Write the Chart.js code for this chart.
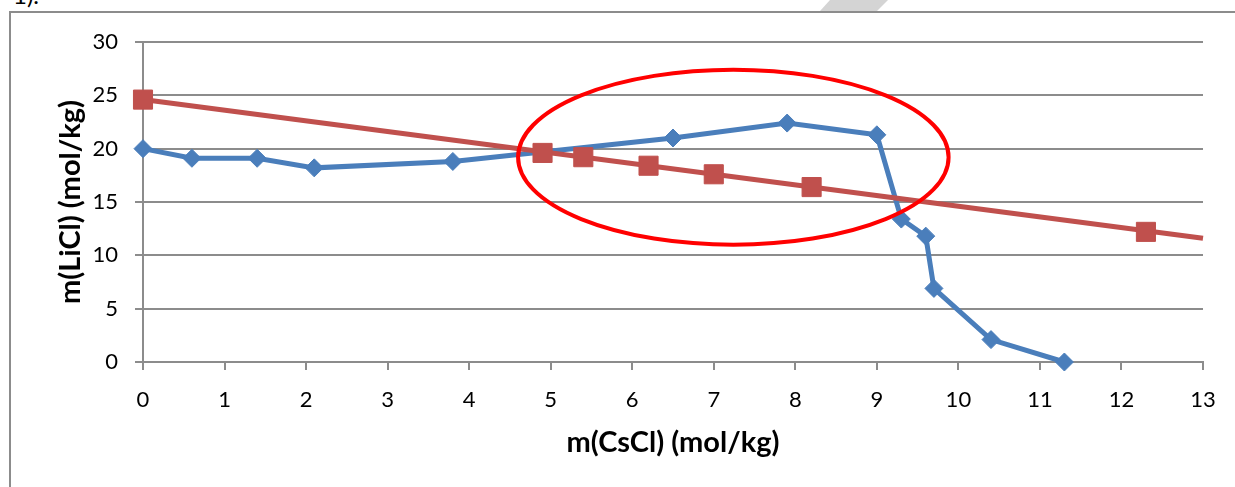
<!DOCTYPE html>
<html>
<head>
<meta charset="utf-8">
<script src="https://cdn.jsdelivr.net/npm/chart.js@4"></script>
<style>
  html, body { margin: 0; padding: 0; background: #fff; overflow: hidden; }
  #wrap { position: relative; width: 1235px; height: 487px; overflow: hidden; }
  #frame { position: absolute; left: 9px; top: 11px; width: 1260px; height: 520px; border: 2px solid #8c8c8c; box-sizing: border-box; }
  #caption { position: absolute; left: 13px; top: -17px; font: 24px Lato; line-height: 24px; color: #000; }
  #mark { position: absolute; left: 820px; top: 0; width: 68px; height: 11px; background: #d4d4d4; clip-path: polygon(10px 0, 68px 0, 57px 100%, 0 100%); }
  canvas { position: absolute; left: 0; top: 0; }
</style>
</head>
<body>
<div id="wrap">
  <div id="frame"></div>
  <div id="caption">1).</div>
  <div id="mark"></div>
  <canvas id="myChart" width="1235" height="487"></canvas>
</div>
<script>
// blue curve
let csclBlue = [0, 0.6, 1.4, 2.1, 3.8, 6.5, 7.9, 9.0, 9.3, 9.6, 9.7, 10.4, 11.3];
let liclBlue = [20.0, 19.1, 19.1, 18.2, 18.8, 21.0, 22.4, 21.3, 13.4, 11.8, 6.9, 2.1, 0];

// red points and their straight line
let csclRed = [0, 4.9, 5.4, 6.2, 7.0, 8.2, 12.3];
let liclRed = [24.6, 19.6, 19.2, 18.4, 17.6, 16.4, 12.2];
let csclLine = [0, 13];
let liclLine = [24.6, 11.6];

// circled region, in axis units
let ring = { x: 7.24, y: 19.2, rx: 2.64, ry: 8.2 };

const gridGray = "#8c8c8c";
const tickFont = { family: "Lato", size: 22 };
const titleFont = { family: "Lato", size: 29, weight: "bold" };

function toPoints(xs, ys) {
  return xs.map((x, i) => ({ x, y: ys[i] }));
}

const ringPlugin = {
  id: "ringPlugin",
  afterDatasetsDraw(chart) {
    let ctx = chart.ctx;
    let x = chart.scales.x;
    let y = chart.scales.y;
    let cx = x.getPixelForValue(ring.x);
    let cy = y.getPixelForValue(ring.y);
    let rx = Math.abs(x.getPixelForValue(ring.x + ring.rx) - cx);
    let ry = Math.abs(y.getPixelForValue(ring.y + ring.ry) - cy);
    ctx.save();
    ctx.beginPath();
    ctx.ellipse(cx, cy, rx, ry, 0, 0, 2 * Math.PI);
    ctx.strokeStyle = "#ff0000";
    ctx.lineWidth = 4;
    ctx.stroke();
    ctx.restore();
  },
};

let ctx = document.getElementById("myChart").getContext("2d");

let myChart = new Chart(ctx, {
  type: "scatter",
  data: {
    datasets: [
      {
        label: "red points",
        data: toPoints(csclRed, liclRed),
        showLine: false,
        pointStyle: "rect",
        pointRadius: 13.5,
        pointBorderWidth: 1,
        backgroundColor: "#C0504D",
        borderColor: "#C0504D",
        clip: false,
      },
      {
        label: "red line",
        data: toPoints(csclLine, liclLine),
        showLine: true,
        pointRadius: 0,
        borderWidth: 5,
        borderColor: "#C0504D",
        clip: false,
      },
      {
        label: "blue",
        data: toPoints(csclBlue, liclBlue),
        showLine: true,
        borderWidth: 5,
        borderColor: "#4A7EBB",
        backgroundColor: "#4A7EBB",
        pointStyle: "rectRot",
        pointRadius: 9,
        pointBorderWidth: 1,
        clip: false,
      },
    ],
  },
  options: {
    responsive: false,
    animation: false,
    layout: { padding: { top: 42, right: 32, left: 0, bottom: 0 } },
    plugins: { legend: { display: false }, tooltip: { enabled: false } },
    scales: {
      x: {
        type: "linear",
        min: 0,
        max: 13,
        ticks: { stepSize: 1, font: tickFont, color: "#000", padding: 17 },
        grid: { drawOnChartArea: false, tickLength: 8, color: gridGray, lineWidth: 2 },
        border: { color: gridGray, width: 2 },
        title: { display: true, text: "m(CsCl) (mol/kg)", font: titleFont, color: "#000", padding: { bottom: 27 } },
        afterFit(scale) {
          scale.height = 125;
        },
      },
      y: {
        min: 0,
        max: 30,
        ticks: { stepSize: 5, font: tickFont, color: "#000", padding: 17 },
        grid: { tickLength: 8, color: gridGray, lineWidth: 2 },
        border: { color: gridGray, width: 2 },
        title: { display: true, text: "m(LiCl) (mol/kg)", font: titleFont, color: "#000", padding: { top: 53 } },
        afterFit(scale) {
          scale.width = 143;
        },
      },
    },
  },
  plugins: [ringPlugin],
});
</script>
</body>
</html>
